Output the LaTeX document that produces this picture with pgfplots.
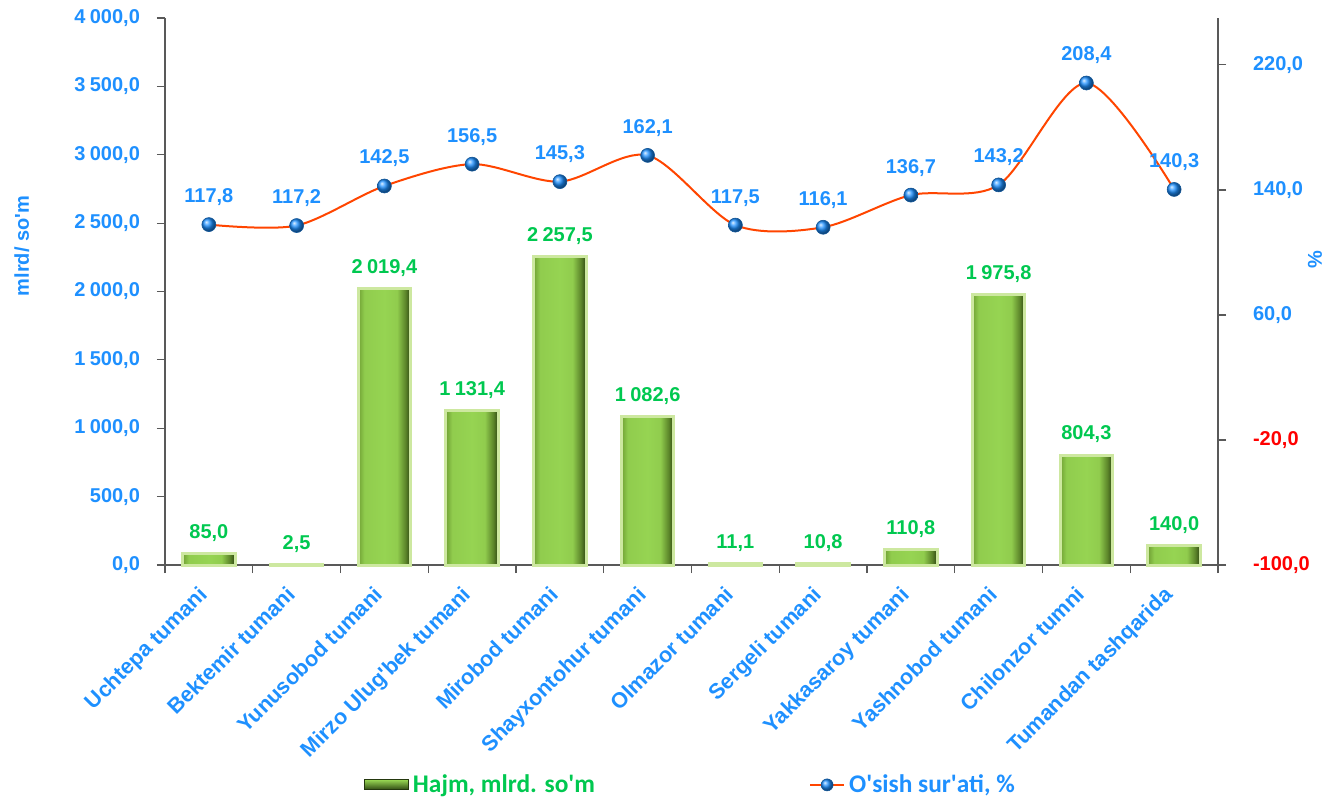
\documentclass[border=0pt]{standalone}
\usepackage{pgfplots}
\pgfplotsset{compat=1.18}
\usepackage{fontspec}
\setmainfont{Liberation Sans}
\newfontfamily\legfont{Carlito}
\definecolor{tblue}{RGB}{30,144,255}
\definecolor{tgreen}{RGB}{0,200,80}
\definecolor{tred}{RGB}{255,0,0}
\definecolor{lred}{RGB}{255,69,0}
\definecolor{gdark}{RGB}{45,70,18}
\definecolor{gmid}{RGB}{150,212,82}
\definecolor{gleft}{RGB}{112,160,52}
\definecolor{glow}{RGB}{205,232,160}
\pgfdeclarehorizontalshading{barshade}{100bp}{color(0bp)=(gleft); color(25bp)=(gleft); color(31bp)=(gmid!85!gleft); color(50bp)=(gmid); color(62bp)=(gmid!85!gleft); color(70bp)=(gleft!70!gdark); color(75bp)=(gdark); color(100bp)=(gdark)}
\pgfplotsset{
  mybar/.style={ybar, bar width=0.6, bar shift=0pt, draw=glow, line width=1.5pt,
    shade, shading=barshade, shading angle=0, forget plot,
    nodes near coords, every node near coord/.append style={text=tgreen, font=\bfseries\fontsize{10}{12}\selectfont, yshift=2pt}},
}
\begin{document}
\bfseries\fontsize{10}{12}\selectfont
\begin{tikzpicture}
\useasboundingbox (-82.5pt,-116.5pt) rectangle (584pt,282.5pt);
\begin{axis}[
  at={(0,0)}, anchor=south west,
  scale only axis, width=526.5pt, height=273.5pt,
  xmin=-0.5, xmax=11.5, ymin=0, ymax=4000,
  axis x line*=bottom, axis y line*=left,
  axis line style={draw=gray!70!black, line width=0.6pt},
  xtick={0,...,11},
  xticklabels={Uchtepa tumani,Bektemir tumani,Yunusobod tumani,Mirzo Ulug\textquotesingle bek tumani,Mirobod tumani,Shayxontohur tumani,Olmazor tumani,Sergeli tumani,Yakkasaroy tumani,Yashnobod tumani,Chilonzor tumni,Tumandan tashqarida},
  minor xtick={-0.5,0.5,...,11.5},
  x tick style={draw=none},
  minor x tick style={draw=gray!70!black, line width=0.6pt},
  y tick style={draw=gray!70!black, line width=0.6pt},
  tick align=outside, major tick length=4pt, minor tick length=4pt,
  xticklabel style={xshift=-5.7pt, yshift=-4.3pt, rotate=45, anchor=north east, text=tblue, font=\bfseries\fontsize{10.8}{12}\selectfont, inner sep=1pt},
  ytick={0,500,...,4000},
  yticklabel style={text=tblue, font=\bfseries\fontsize{10}{12}\selectfont, xshift=-5pt},
  /pgf/number format/.cd, use comma, fixed, fixed zerofill, precision=1, 1000 sep={\hspace{0.22em}}, assume math mode=true,
  /pgfplots/.cd,
  scaled y ticks=false,
  ylabel={mlrd/ so\textquotesingle m}, ylabel style={text=tblue, font=\bfseries\fontsize{10}{12}\selectfont, at={(axis description cs:-0.136,0.583)}, anchor=center},
  legend columns=2,
  legend style={at={(axis description cs:0.5,-0.402)}, anchor=center, draw=none, fill=none, /tikz/every even column/.append style={column sep=105pt}},
  clip=false,
]
\addplot[mybar] coordinates {(0,85.0)};
\addplot[mybar] coordinates {(1,2.5)};
\addplot[mybar] coordinates {(2,2019.4)};
\addplot[mybar] coordinates {(3,1131.4)};
\addplot[mybar] coordinates {(4,2257.5)};
\addplot[mybar] coordinates {(5,1082.6)};
\addplot[mybar] coordinates {(6,11.1)};
\addplot[mybar] coordinates {(7,10.8)};
\addplot[mybar] coordinates {(8,110.8)};
\addplot[mybar] coordinates {(9,1975.8)};
\addplot[mybar] coordinates {(10,804.3)};
\addplot[mybar] coordinates {(11,140.0)};
\addlegendimage{legend image code/.code={\draw[draw=gdark!80!black, line width=0.4pt, top color=gmid, bottom color=gdark] (0pt,-2.5pt) rectangle (22pt,2.5pt);}}
\addlegendentry{{\legfont\bfseries\fontsize{12.7}{14}\selectfont\textcolor{tgreen}{Hajm, mlrd. so\textquotesingle m}}}
\addlegendimage{lred, line width=1pt, mark=ball, mark size=3pt, mark options={ball color=tblue, draw=tblue!60!black, line width=0.3pt}}
\addlegendentry{{\legfont\bfseries\fontsize{12.7}{14}\selectfont\textcolor{tblue}{O\textquotesingle sish sur\textquotesingle ati, \%}}}
\end{axis}
\begin{axis}[
  at={(0,0)}, anchor=south west,
  scale only axis, width=526.5pt, height=273.5pt,
  xmin=-0.5, xmax=11.5, ymin=-100, ymax=250,
  axis x line=none, axis y line*=right,
  axis line style={draw=gray!70!black, line width=0.6pt},
  y tick style={draw=gray!70!black, line width=0.6pt},
  tick align=outside, major tick length=4pt,
  ytick={-100,-20,60,140,220},
  yticklabels={{\textcolor{tred}{-100,0}},{\textcolor{tred}{-20,0}},{60,0},{140,0},{220,0}},
  yticklabel style={text=tblue, font=\bfseries\fontsize{10}{12}\selectfont, xshift=10pt},
  ylabel={\%}, ylabel style={text=tblue, font=\bfseries\fontsize{10}{12}\selectfont, at={(axis description cs:1.092,0.558)}, anchor=center},
  /pgf/number format/.cd, use comma, fixed, fixed zerofill, precision=1, assume math mode=true,
  /pgfplots/.cd,
  clip=false,
]
\addplot[lred, line width=1pt, smooth, tension=0.5, mark=ball, mark size=3.5pt, mark options={ball color=tblue, draw=tblue!60!black, line width=0.3pt},
  nodes near coords, every node near coord/.append style={text=tblue, font=\bfseries\fontsize{10}{12}\selectfont, yshift=6pt}]
coordinates {(0,117.8) (1,117.2) (2,142.5) (3,156.5) (4,145.3) (5,162.1) (6,117.5) (7,116.1) (8,136.7) (9,143.2) (10,208.4) (11,140.3)};
\end{axis}
\end{tikzpicture}
\end{document}
